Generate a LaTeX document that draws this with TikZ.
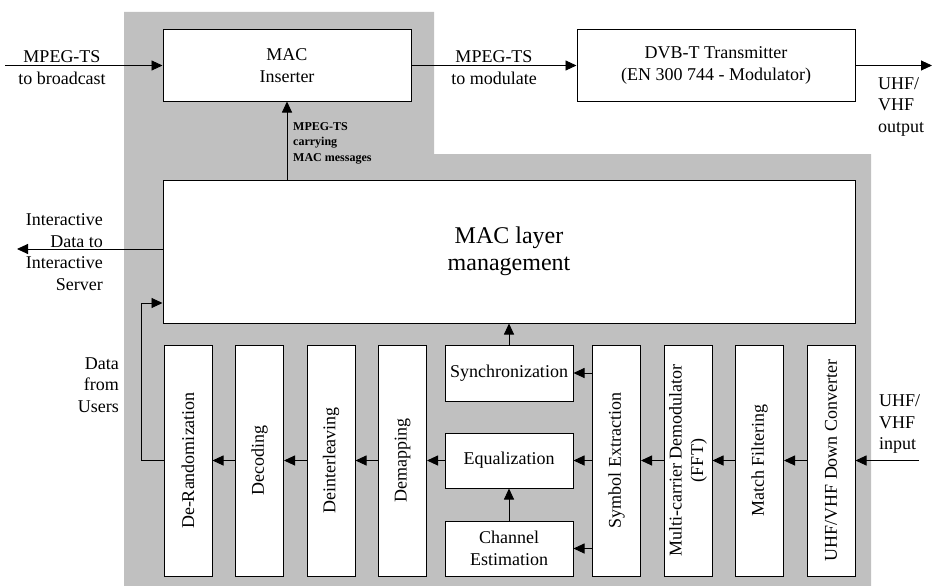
\documentclass[tikz,border=0pt]{standalone}
\usepackage{fontspec}
\setmainfont{Liberation Serif}
\usetikzlibrary{arrows.meta}
\definecolor{bgray}{RGB}{192,192,192}

\begin{document}
\begin{tikzpicture}[x=1pt,y=-1pt]
\tikzstyle{every node}=[font=\fontsize{18}{21.6}\selectfont, inner sep=1pt]
\tikzstyle{box}=[draw, fill=white, line width=1pt, align=center]
\tikzstyle{vbox}=[box, rotate=90, minimum width=231pt, minimum height=48pt]
\tikzstyle{mbox}=[box, minimum width=128pt]
\tikzstyle{flow}=[line width=0.9pt, -{Triangle[length=11pt,width=10pt]}]
\useasboundingbox (0,0) rectangle (932,586);
\fill[bgray] (124,12) -- (434,12) -- (434,154) -- (871,154) -- (871,586) -- (124,586) -- cycle;
% upper chain
\node[box, minimum width=248pt, minimum height=71pt] (ins) at (287,65.5) {MAC\\Inserter};
\node[box, minimum width=278pt, minimum height=71pt] (dvb) at (716,65.5) {DVB-T Transmitter\\(EN 300 744 - Modulator)};
\node[box, minimum width=692pt, minimum height=143pt, font=\fontsize{24}{27}\selectfont] (mac) at (509,251.5) {MAC layer\\management};
% receiver chain
\node[vbox] (drand) at (188,460.5) {De-Randomization};
\node[vbox] (dec) at (259.5,460.5) {Decoding};
\node[vbox] (dint) at (331,460.5) {Deinterleaving};
\node[vbox] (dmap) at (402.5,460.5) {Demapping};
\node[mbox, minimum height=56pt] (sync) at (509,373) {Synchronization};
\node[mbox, minimum height=55pt] (equ) at (509,460.5) {Equalization};
\node[mbox, minimum height=55pt] (chest) at (509,548.5) {Channel\\Estimation};
\node[vbox] (symb) at (616.5,460.5) {Symbol Extraction};
\node[vbox] (mcd) at (688,460.5) {Multi-carrier Demodulator\\(FFT)};
\node[vbox] (mf) at (759.5,460.5) {Match Filtering};
\node[vbox] (udc) at (831,460.5) {UHF/VHF Down Converter};
% labels
\node[align=center] (bclbl) at (62,67.5) {MPEG-TS\\to broadcast};
\node[align=center] (modlbl) at (494,67.5) {MPEG-TS\\to modulate};
\node[anchor=north west, align=left] (outlbl) at (877,76) {UHF/\\VHF\\output};
\node[anchor=west, align=left, font=\fontsize{12}{15.5}\selectfont\bfseries] (msglbl) at (292,143) {MPEG-TS\\carrying\\MAC messages};
\node[anchor=east, align=right] (isrvlbl) at (104,252) {Interactive\\Data to\\Interactive\\Server};
\node[anchor=east, align=right] (usrlbl) at (120,385) {Data\\from\\Users};
\node[anchor=west, align=left] (inlbl) at (878,424) {UHF/\\VHF\\input};
% connectors
\coordinate (bcsrc) at (5,65.5);
\coordinate (rfout) at (932,65.5);
\coordinate (isrv) at (17,249);
\coordinate (ufb) at (141,303);
\coordinate (rfin) at (919,460.5);
\draw[flow] (bcsrc) -- (ins.west);
\draw[flow] (ins.east) -- (dvb.west);
\draw[flow] (dvb.east) -- (rfout);
\draw[flow] (mac.north -| ins.south) -- (ins.south);
\draw[flow] (mac.west |- isrv) -- (isrv);
\draw[flow] (drand.north) -| (ufb) -- (mac.west |- ufb);
\draw[flow] (rfin) -- (udc.south);
\draw[flow] (udc.north) -- (mf.south);
\draw[flow] (mf.north) -- (mcd.south);
\draw[flow] (mcd.north) -- (symb.south);
\draw[flow] (symb.north |- sync.east) -- (sync.east);
\draw[flow] (symb.north) -- (equ.east);
\draw[flow] (symb.north |- chest.east) -- (chest.east);
\draw[flow] (chest.north) -- (equ.south);
\draw[flow] (sync.north) -- (mac.south);
\draw[flow] (equ.west) -- (dmap.south);
\draw[flow] (dmap.north) -- (dint.south);
\draw[flow] (dint.north) -- (dec.south);
\draw[flow] (dec.north) -- (drand.south);
\end{tikzpicture}
\end{document}
